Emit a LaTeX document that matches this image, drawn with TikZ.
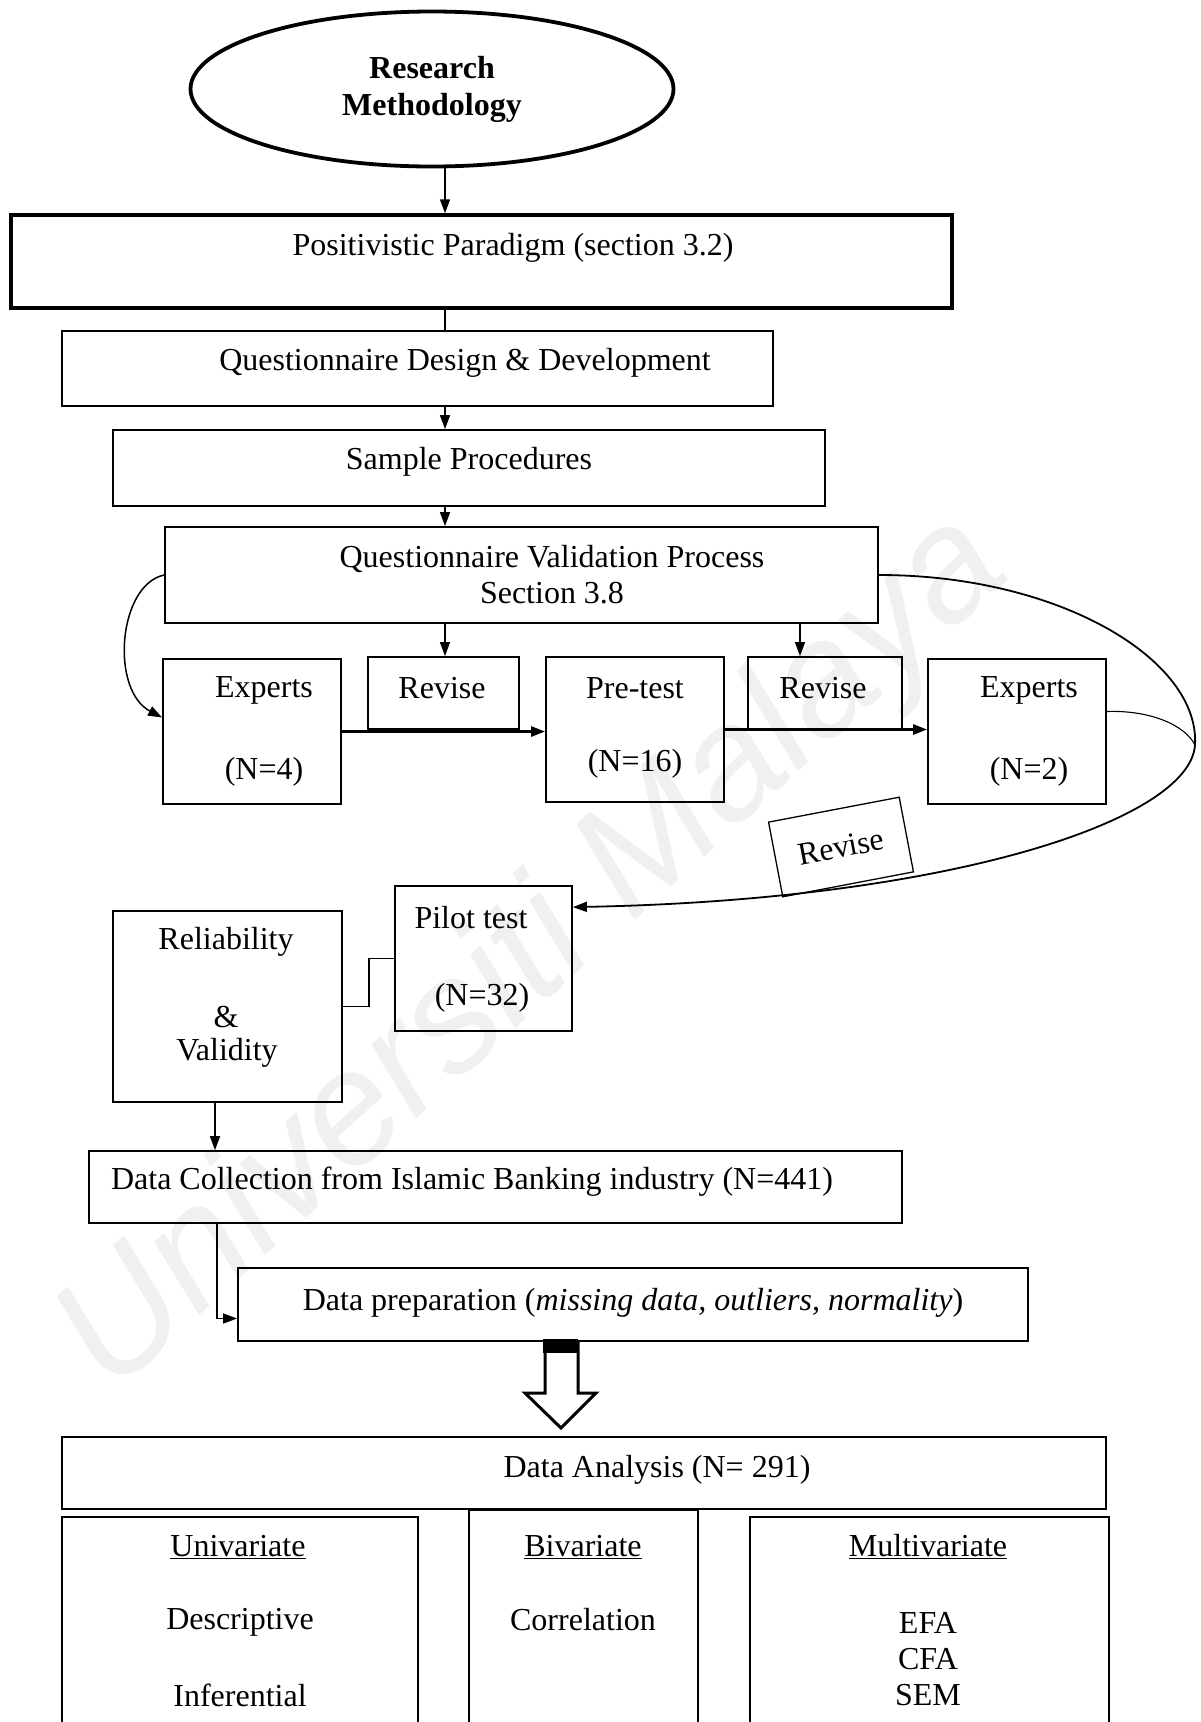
\documentclass[tikz,border=0pt]{standalone}
\usepackage{fontspec}
\setmainfont{Liberation Serif}
\newfontfamily\wmfont{Liberation Sans}
\usetikzlibrary{arrows.meta,shapes.geometric,fit,calc}

\begin{document}
\begin{tikzpicture}[x=1pt,y=-1pt,
  font=\fontsize{32}{36}\selectfont,
  box/.style={draw,line width=1.8pt,inner sep=0pt},
  lbl/.style={inner sep=0pt,align=center},
  tip/.style={-{Triangle[length=14pt,width=10pt]}},
  conn/.style={line width=1.5pt},
  thin/.style={line width=1.1pt},
]
\useasboundingbox (0,0) rectangle (1200,1722);
\clip (0,0) rectangle (1200,1722);
\fill[white] (0,0) rectangle (1200,1722);

% background mark
\node[text=black!6, inner sep=0pt, rotate=42.3,
      font=\wmfont\itshape\fontsize{160}{160}\selectfont] (wm) at (535,955) {Universiti Malaya};

% guide lines for vertical connectors
\coordinate (s1) at (445,0);
\coordinate (s2) at (800,0);
\coordinate (s3) at (215,0);
\coordinate (s4) at (217,0);
\coordinate (bend) at (369,0);
\coordinate (loop) at (1195,745);

% top oval
\node[ellipse, draw, line width=3.8pt, minimum width=483pt, minimum height=155pt,
      inner sep=0pt, align=center, font=\bfseries\fontsize{32}{37}\selectfont]
      (rm) at (432,89) {Research\\Methodology};

% main boxes
\node[box, line width=3.5pt, fit={(11,215) (952,308)}] (pp) {};
\node[lbl] (ppt) at (513,248) {Positivistic Paradigm (section 3.2)};
\node[box, fit={(62,331) (773,406)}] (qdd) {};
\node[lbl] (qddt) at (465,363) {Questionnaire Design \& Development};
\node[box, fit={(113,430) (825,506)}] (sp) {};
\node[lbl] (spt) at (469,462) {Sample Procedures};
\node[box, fit={(165,527) (878,623)}] (qvp) {};
\node[lbl] (qvpt) at (552,575) {Questionnaire Validation Process\\Section 3.8};

% validation row
\node[box, fit={(163,659) (341,804)}] (ex1) {};
\node[lbl] (ex1a) at (264,690) {Experts};
\node[lbl] (ex1b) at (264,772) {(N=4)};
\node[box, fit={(368,657) (519,729)}] (rv1) {};
\node[lbl] (rv1t) at (442,688) {Revise};
\node[box, fit={(546,657) (724,802)}] (pt) {};
\node[lbl] (pta) at (635,688) {Pre-test};
\node[lbl] (ptb) at (635,764) {(N=16)};
\node[box, fit={(748,657) (902,729)}] (rv2) {};
\node[lbl] (rv2t) at (823,688) {Revise};
\node[box, fit={(928,659) (1106,804)}] (ex2) {};
\node[lbl] (ex2a) at (1029,690) {Experts};
\node[lbl] (ex2b) at (1029,772) {(N=2)};
\node[draw, line width=1.3pt, rotate=10.8, minimum width=133pt, minimum height=76pt,
      inner sep=0pt] (rv3) at (841,847) {Revise};

% pilot and reliability
\node[box, fit={(395,886) (572,1031)}] (pl) {};
\node[lbl] (pla) at (471,918) {Pilot test};
\node[lbl] (plb) at (482,998) {(N=32)};
\node[box, fit={(113,911) (342,1102)}] (rel) {};
\node[lbl] (rela) at (226,942) {Reliability};
\node[lbl] (relb) at (226,1017) {\&};
\node[lbl] (relc) at (227,1053) {Validity};

% data handling
\node[box, fit={(89,1151) (902,1223)}] (dc) {};
\node[lbl] (dct) at (472,1182) {Data Collection from Islamic Banking industry (N=441)};
\node[box, fit={(238,1268) (1028,1341)}] (dp) {};
\node[lbl] (dpt) at (633,1303) {Data preparation (\textit{missing data, outliers, normality})};
\node[box, fit={(62,1437) (1106,1509)}] (da) {};
\node[lbl] (dat) at (657,1470) {Data Analysis (N= 291)};

% analysis columns
\node[box, fit={(62,1517) (418,1760)}] (uni) {};
\node[lbl] (unia) at (238,1547) {\underline{Univariate}};
\node[lbl] (unib) at (240,1622) {Descriptive};
\node[lbl] (unic) at (240,1695) {Inferential};
\node[box, fit={(469,1510) (698,1760)}] (biv) {};
\node[lbl] (biva) at (583,1547) {\underline{Bivariate}};
\node[lbl] (bivb) at (583,1620) {Correlation};
\node[box, fit={(750,1517) (1109,1760)}] (mul) {};
\node[lbl] (mula) at (928,1547) {\underline{Multivariate}};
\node[lbl] (mulb) at (928,1659) {EFA\\CFA\\SEM};

% connectors down the main column
\draw[conn,tip] (rm.south -| s1) -- (pp.north -| s1);
\draw[conn] (pp.south -| s1) -- (qdd.north -| s1);
\draw[conn,tip] (qdd.south -| s1) -- (sp.north -| s1);
\draw[conn,tip] (sp.south -| s1) -- (qvp.north -| s1);
\draw[conn,tip] (qvp.south -| s1) -- (rv1.north -| s1);
\draw[conn,tip] (qvp.south -| s2) -- (rv2.north -| s2);

% validation flow
\draw[line width=2.6pt,tip] (ex1.east) -- (ex1.east -| pt.west);
\draw[line width=2.6pt,tip] (pt.east) -- (pt.east -| ex2.west);
\draw[conn,tip] (qvp.west) .. controls (118,585) and (110,690) .. ($(ex1.west)+(0,-14)$);
\draw[line width=1.8pt,tip] (qvp.east) .. controls (1060,575) and (1200,660) .. (loop)
      .. controls (1190,820) and (950,900) .. ($(pl.north east)+(0,22)$);
\draw[thin] ($(ex2.east)+(0,-20)$) .. controls (1150,710) and (1185,725) .. (loop);

% pilot to reliability, then onwards
\draw[thin] (pl.west) -- (pl.west -| bend) |- (rel.east);
\draw[conn,tip] (rel.south -| s3) -- (dc.north -| s3);
\draw[conn,tip] (dc.south -| s4) |- ($(dp.west)+(0,14)$);

% hollow block arrow into the analysis stage
\draw[line width=3pt, fill=white, line join=miter]
  (545,1341) -- (545,1393) -- (525,1393) -- (561,1428) -- (596,1393) -- (578,1393) -- (578,1341);
\fill (543,1339) rectangle (578,1353);
\end{tikzpicture}
\end{document}
